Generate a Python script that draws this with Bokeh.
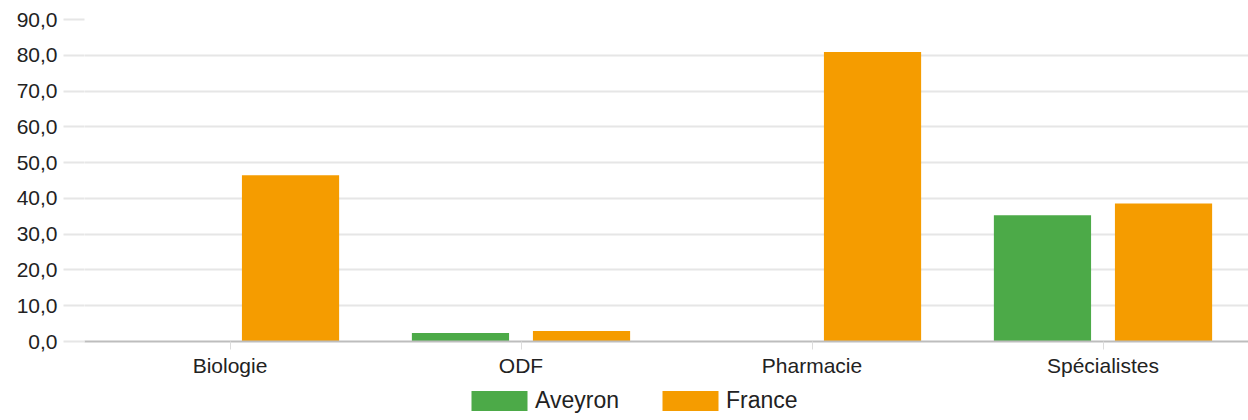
from bokeh.plotting import figure
from bokeh.layouts import column
from bokeh.models import (ColumnDataSource, FactorRange, SingleIntervalTicker,
                          CustomJSTickFormatter, Legend, LegendItem, Range1d)
from bokeh.transform import dodge
from bokeh.embed import file_html
from bokeh.resources import INLINE

categories = ["Biologie", "ODF", "Pharmacie", "Spécialistes"]
series_names = ["Aveyron", "France"]
aveyron = [float("nan"), 2.4, float("nan"), 35.3]
france = [46.5, 2.9, 80.9, 38.6]
colors = ["#4CAA48", "#F59C00"]

source = ColumnDataSource(dict(cat=categories, Aveyron=aveyron, France=france))

FONT = "Liberation Sans"
offsets = [-0.208, 0.208]

p = figure(width=1248, height=382, x_range=FactorRange(*categories, range_padding=0),
           y_range=Range1d(0, 90), output_backend="svg", toolbar_location=None,
           min_border_left=84, min_border_right=0, min_border_top=19, min_border_bottom=41)
p.outline_line_color = None
p.background_fill_color = "white"
p.border_fill_color = "white"

for name, off, col in zip(series_names, offsets, colors):
    p.vbar(x=dodge("cat", off, range=p.x_range), top=name, width=0.334,
           source=source, fill_color=col, line_color=None)

# y axis
yax = p.yaxis[0]
yax.ticker = SingleIntervalTicker(interval=10, num_minor_ticks=0)
yax.formatter = CustomJSTickFormatter(code="return tick.toFixed(1).replace('.', ',');")
yax.axis_line_color = None
yax.major_tick_out = 21
yax.major_tick_in = 0
yax.major_tick_line_color = "#e6e6e6"
yax.major_tick_line_width = 2
yax.minor_tick_line_color = None
yax.major_label_standoff = 6
yax.major_label_text_font = FONT
yax.major_label_text_font_size = "21px"
yax.major_label_text_color = "#222222"

# x axis
xax = p.xaxis[0]
xax.axis_line_color = "#bdbdbd"
xax.axis_line_width = 2
xax.major_tick_out = 8
xax.major_tick_in = 0
xax.major_tick_line_color = "#dcdcdc"
xax.minor_tick_line_color = None
xax.major_label_standoff = 4
xax.major_label_text_font = FONT
xax.major_label_text_font_size = "21px"
xax.major_label_text_color = "#222222"

p.xgrid.grid_line_color = None
p.ygrid.grid_line_color = "#e6e6e6"
p.ygrid.grid_line_width = 2

# legend strip (same series, bars kept out of its view so only the legend shows)
pl = figure(width=1248, height=38, x_range=FactorRange(*categories, range_padding=0),
            y_range=Range1d(1000, 1001), output_backend="svg", toolbar_location=None,
            x_axis_type=None, y_axis_type=None, min_border=0)
pl.outline_line_color = None
pl.grid.grid_line_color = None
leg_renderers = [pl.vbar(x=dodge("cat", off, range=pl.x_range), top=name, width=0.334,
                         source=source, fill_color=col, line_color=None)
                 for name, off, col in zip(series_names, offsets, colors)]

legend = Legend(items=[LegendItem(label=n, renderers=[r]) for n, r in zip(series_names, leg_renderers)],
                orientation="horizontal", location=(380, 6),
                glyph_width=70, glyph_height=25, label_standoff=1, spacing=36,
                padding=0, margin=0, border_line_color=None, background_fill_alpha=0,
                label_text_font=FONT, label_text_font_size="23px", label_text_color="#222222")
pl.add_layout(legend)

layout = column(p, pl, spacing=0)
open("out.html", "w").write(file_html(layout, INLINE))
